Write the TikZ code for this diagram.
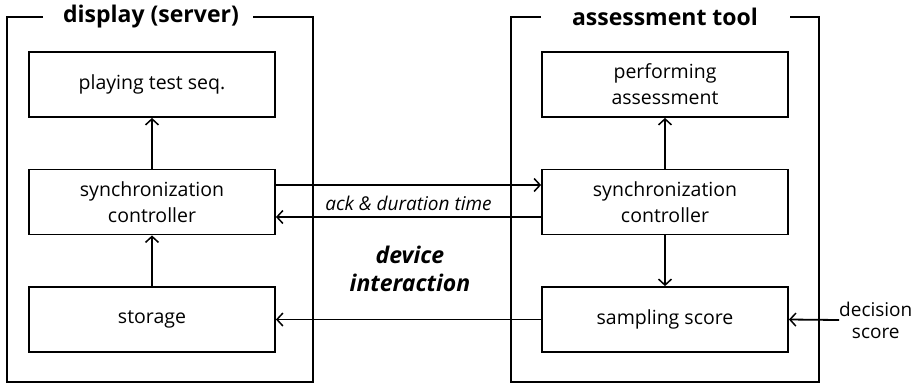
\documentclass[tikz,border=0pt]{standalone}
\usepackage{fontspec}
\setmainfont{Open Sans}
\usetikzlibrary{arrows.meta}
\begin{document}
\begin{tikzpicture}[x=1pt,y=-1pt,
  box/.style={draw,line width=1.8pt,minimum width=246pt,minimum height=65pt,align=center,font=\fontsize{19.5}{26}\selectfont,inner sep=0pt},
  arr/.style={line width=1.8pt,-{Straight Barb[length=6pt,width=13pt,line width=1.5pt]}},
  frame/.style={line width=1.8pt},
  ttl/.style={font=\bfseries\fontsize{23}{26}\selectfont,inner sep=0pt}]
\useasboundingbox (0,0) rectangle (921,384);
% titles
\node[ttl] (ltitle) at (151,17) {display (server)};
\node[ttl] (rtitle) at (665,17) {assessment tool};
% frames
\draw[frame] (43,17) -- (7,17) -- (7,382) -- (313,382) -- (313,17) -- (253,17);
\draw[frame] (541,17) -- (511,17) -- (511,382) -- (819,382) -- (819,17) -- (790,17);
% left boxes
\node[box] (lplay) at (152,84.5) {playing test seq.};
\node[box] (lsync) at (152,202) {synchronization\\controller};
\node[box] (lstore) at (152,319.5) {storage};
% right boxes
\node[box] (rperf) at (665,84.5) {performing\\assessment};
\node[box] (rsync) at (665,202) {synchronization\\controller};
\node[box] (rsamp) at (665,319.5) {sampling score};
% decision score
\node[align=center,font=\fontsize{19}{22}\selectfont,inner sep=0pt,anchor=west] (dec) at (839,320) {decision\\score};
% vertical arrows
\draw[arr] (lsync) -- (lplay);
\draw[arr] (lstore) -- (lsync);
\draw[arr] (rsync) -- (rperf);
\draw[arr] (rsync) -- (rsamp);
% horizontal arrows
\draw[arr] (lsync.east |- {(0,185)}) -- (rsync.west |- {(0,185)});
\draw[arr] (rsync.west |- {(0,217)}) -- node[above=2pt,font=\itshape\fontsize{19}{22}\selectfont] {ack \& duration time} (lsync.east |- {(0,217)});
\draw[arr] (rsamp.west) -- (lstore.east);
\draw[arr] (dec.west) -- (rsamp.east);
% label
\node[align=center,font=\bfseries\itshape\fontsize{23}{28}\selectfont] (dev) at (410,269) {device\\interaction};
\end{tikzpicture}
\end{document}
